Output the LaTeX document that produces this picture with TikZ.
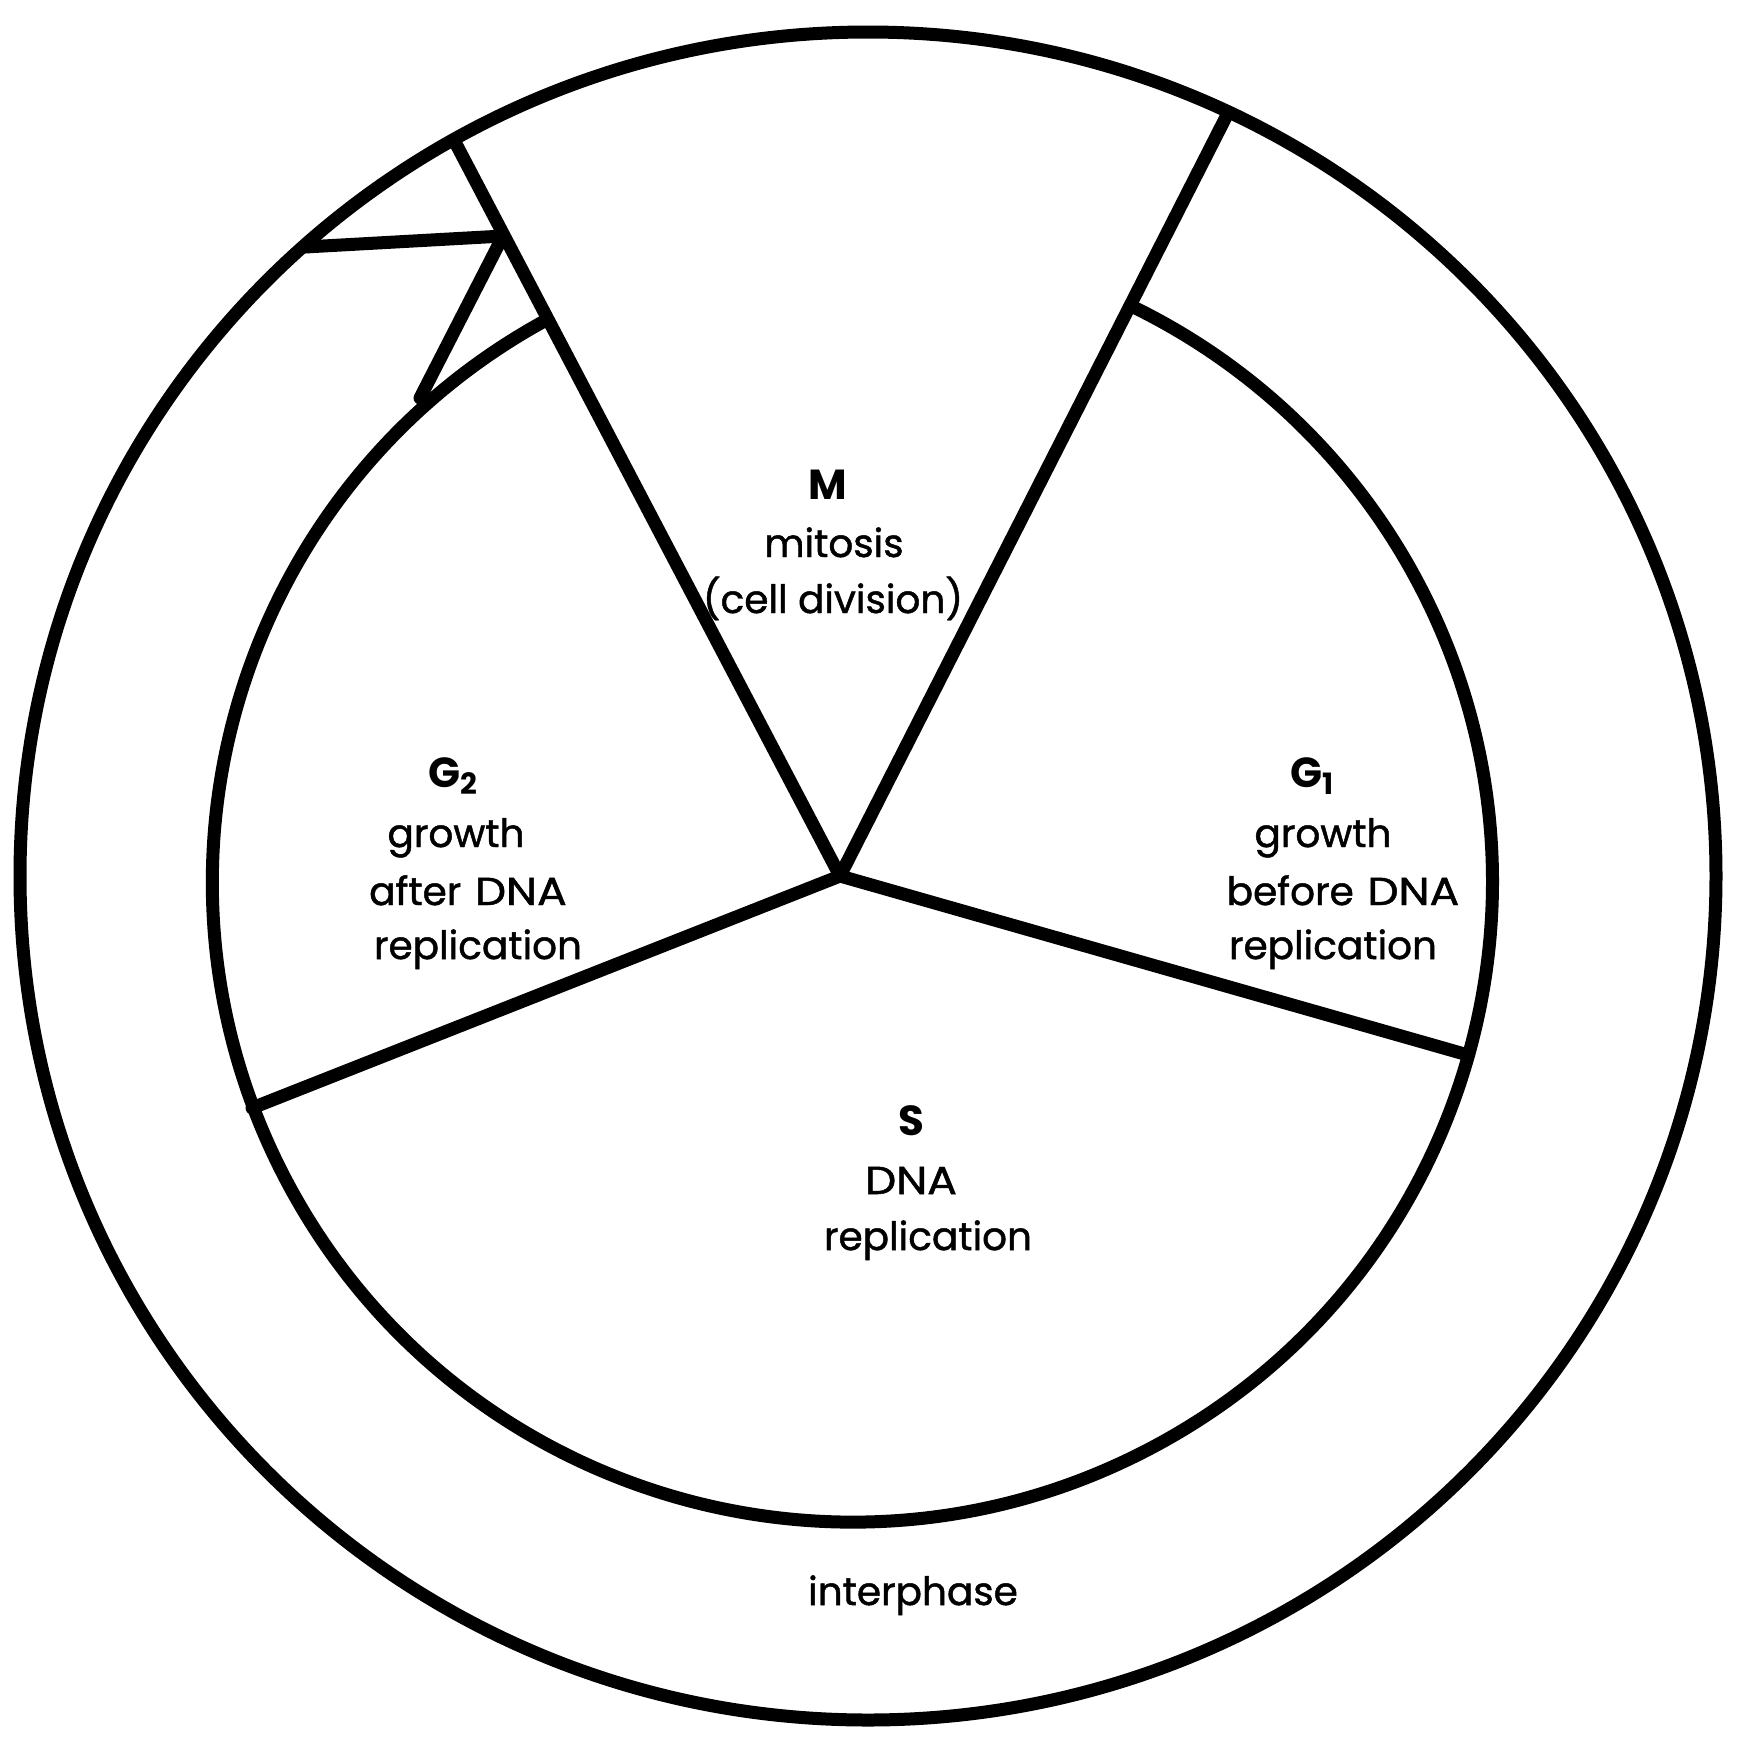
\documentclass[tikz,border=0pt]{standalone}
\usepackage{graphicx}
\usepackage{fontspec}
\setmainfont{Poppins}
\newfontfamily\lblfont{Poppins}[FakeBold=1.2]
\newcommand{\wideDNA}{\scalebox{1.13}[1]{DNA}}
\begin{document}
\begin{tikzpicture}[x=0.5pt,y=-0.5pt,
  ring/.style={line width=6.5pt,black},
  spoke/.style={line width=6.5pt,black,line cap=round},
  lbl/.style={anchor=base,inner sep=0pt,font=\lblfont\fontsize{19.5pt}{24pt}\selectfont},
  hd/.style={anchor=base,inner sep=0pt,font=\fontsize{21pt}{24pt}\selectfont\bfseries}]
\useasboundingbox (0,0) rectangle (1745,1758);
% centres
\coordinate (oc) at (868,876);
\coordinate (hub) at (840,876);
% outer circle
\draw[ring] (oc) ellipse[x radius=848,y radius=844];
% inner arc (open over the M sector)
\draw[ring] (550,318) arc[start angle=241.8,end angle=-64.5,radius=640];
% spoke end points
\coordinate (mlo) at (455,142);
\coordinate (mro) at (1228,113);
\coordinate (re) at (1468,1055);
\coordinate (le) at (252,1108);
\coordinate (hl) at (305,247);
\coordinate (hr) at (503,236);
\coordinate (dl) at (420,398);
\draw[spoke] (hub) -- (mlo);
\draw[spoke] (hub) -- (mro);
\draw[spoke] (hub) -- (re);
\draw[spoke] (hub) -- (le);
\draw[spoke] (hl) -- (hr);
\draw[spoke] (hr) -- (dl);
% labels
\node[hd]  (m1) at (828,499) {M};
\node[lbl] (m2) at (834,557) {mitosis};
\node[lbl] (m3) at (833,613) {(cell division)};
\node[hd]  (a1) at (453,787) {G\textsubscript{2}};
\node[lbl] (a2) at (456,847) {growth};
\node[lbl] (a3) at (468,905) {after\hspace{0.35em}\wideDNA};
\node[lbl] (a4) at (478,959) {replication};
\node[hd]  (b1) at (1313,787) {G\textsubscript{1}};
\node[lbl] (b2) at (1323,847) {growth};
\node[lbl] (b3) at (1343,905) {before\hspace{0.35em}\wideDNA};
\node[lbl] (b4) at (1333,959) {replication};
\node[hd]  (s1) at (911,1135) {S};
\node[lbl] (s2) at (911,1194) {\wideDNA};
\node[lbl] (s3) at (928,1250) {replication};
\node[lbl] (ip) at (913,1605) {interphase};
\end{tikzpicture}
\end{document}
